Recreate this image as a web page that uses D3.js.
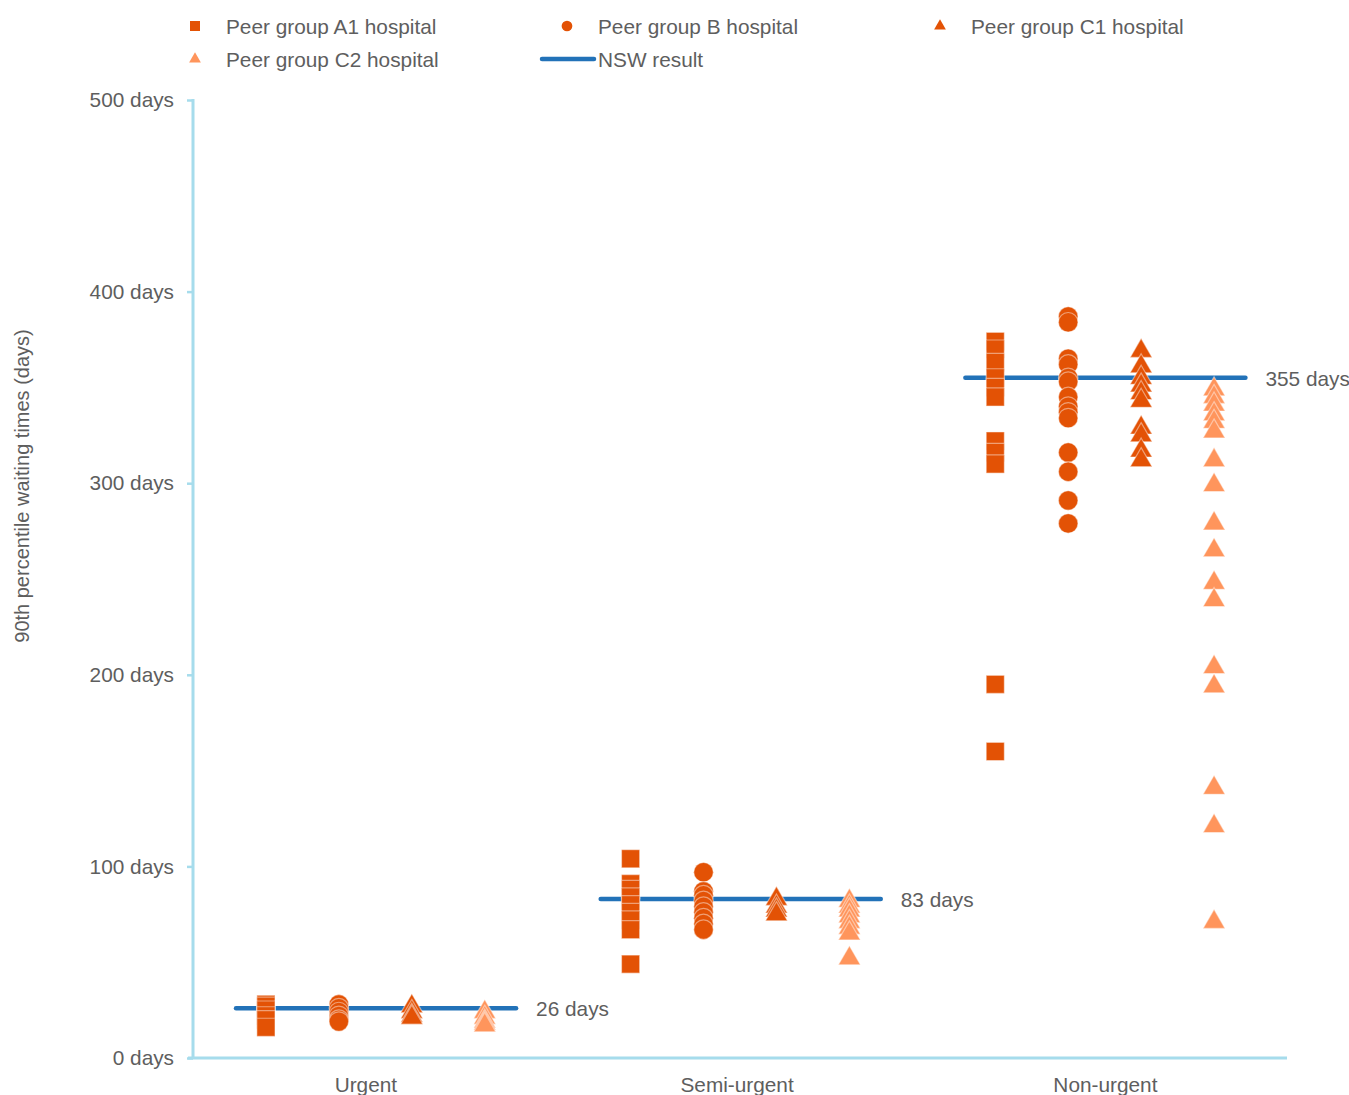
<!DOCTYPE html>
<html><head><meta charset="utf-8">
<script src="https://cdn.jsdelivr.net/npm/d3@7"></script>
<style>body{margin:0;background:#fff;} text{font-family:"Liberation Sans",Arial,sans-serif;}</style>
</head><body><svg id="c" width="1349" height="1095"></svg>
<script>
const categories = ["Urgent", "Semi-urgent", "Non-urgent"];
const categoryLabelX = [2.37, 7.46, 12.51];
const groups = ["Peer group A1 hospital", "Peer group B hospital", "Peer group C1 hospital", "Peer group C2 hospital"];
const nswResult = [26, 83, 355];
const yTicks = [0, 100, 200, 300, 400, 500];
// values per category (Urgent, Semi-urgent, Non-urgent)
const a1Values = [
  [28, 27, 25, 22, 20, 16],
  [104, 91, 88, 84, 80, 76, 72, 67, 49],
  [374, 370, 363, 355, 350, 345, 322, 316, 310, 195, 160]
];
const bValues = [
  [28, 26, 24, 22, 20, 19],
  [97, 87, 85, 82, 79, 76, 73, 70, 67],
  [387, 384, 365, 362, 355, 353, 345, 340, 337, 334, 316, 306, 291, 279]
];
const c1Values = [
  [28, 25, 23, 22],
  [84, 80, 78, 76],
  [370, 362, 356, 352, 348, 344, 330, 326, 318, 313]
];
const c2Values = [
  [25, 22, 20, 19, 18],
  [83, 80, 78, 75, 72, 69, 66, 53],
  [350, 346, 342, 337, 333, 328, 313, 300, 280, 266, 249, 240, 205, 195, 142, 122, 72]
];
const seriesValues = [a1Values, bValues, c1Values, c2Values];
const seriesSymbols = [d3.symbolSquare, d3.symbolCircle, d3.symbolTriangle, d3.symbolTriangle];
const seriesColors = ["#E35205", "#E35205", "#E35205", "#FF955C"];

const svg = d3.select("#c");
const x = d3.scaleLinear().domain([0, 15]).range([193, 1287]);
const y = d3.scaleLinear().domain([0, 500]).range([1058, 100]);
const textColor = "#5e5e5e";
const axisColor = "#A6DCEC";
const fs = "20.8px";

// y axis
const yAxis = svg.append("g").attr("transform", `translate(${x(0)},0)`)
  .call(d3.axisLeft(y).tickValues(yTicks).tickSize(6).tickPadding(13).tickFormat(d => d + " days"));
yAxis.select(".domain").remove();
yAxis.selectAll(".tick line").attr("stroke", axisColor).attr("stroke-width", 2.5);
yAxis.selectAll(".tick text").attr("fill", textColor).style("font-size", fs).style("font-family", "Liberation Sans, Arial, sans-serif");
svg.append("line").attr("x1", x(0)).attr("x2", x(0)).attr("y1", y(500) - 1).attr("y2", y(0))
  .attr("stroke", axisColor).attr("stroke-width", 3);
svg.append("line").attr("x1", x(0) - 5).attr("x2", x(15)).attr("y1", y(0)).attr("y2", y(0))
  .attr("stroke", axisColor).attr("stroke-width", 3);

// y title
svg.append("text").attr("transform", `translate(29,486) rotate(-90)`)
  .attr("text-anchor", "middle").attr("fill", textColor).style("font-size", "20px")
  .text("90th percentile waiting times (days)");

// category labels
categories.forEach((c, i) => {
  svg.append("text").attr("x", x(categoryLabelX[i])).attr("y", 1092)
    .attr("text-anchor", "middle").attr("fill", textColor).style("font-size", fs).text(c);
});

// NSW lines
nswResult.forEach((v, i) => {
  const start = i * 5 + 0.59, end = i * 5 + 4.43;
  svg.append("line").attr("x1", x(start)).attr("x2", x(end)).attr("y1", y(v)).attr("y2", y(v))
    .attr("stroke", "#2272B8").attr("stroke-width", 4.5).attr("stroke-linecap", "round");
  svg.append("text").attr("x", x(end) + 20).attr("y", y(v) + 8).attr("fill", textColor)
    .style("font-size", fs).text(v + " days");
});

// markers
seriesValues.forEach((s, si) => {
  const sym = d3.symbol().type(seriesSymbols[si]).size(si === 1 ? 300 : (si === 0 ? 330 : 210));
  s.forEach((vals, ci) => {
    const xv = ci * 5 + 1 + si;
    svg.append("g").selectAll("path").data(vals).join("path")
      .attr("d", sym)
      .attr("transform", d => `translate(${x(xv)},${y(d) + (si >= 2 ? 2 : 0)})`)
      .attr("fill", seriesColors[si])
      .attr("stroke", "rgba(255,255,255,0.45)").attr("stroke-width", 1.2);
  });
});

// legend
const legendItems = [
  {label: groups[0], sx: 195, tx: 226, ly: 26, si: 0},
  {label: groups[1], sx: 567, tx: 598, ly: 26, si: 1},
  {label: groups[2], sx: 940, tx: 971, ly: 26, si: 2},
  {label: groups[3], sx: 195, tx: 226, ly: 59, si: 3}
];
legendItems.forEach(it => {
  svg.append("path").attr("d", d3.symbol().type(seriesSymbols[it.si]).size(it.si === 1 ? 90 : (it.si === 0 ? 100 : 60)))
    .attr("transform", `translate(${it.sx},${it.ly})`).attr("fill", seriesColors[it.si]);
  svg.append("text").attr("x", it.tx).attr("y", it.ly + 8).attr("fill", textColor)
    .style("font-size", fs).text(it.label);
});
svg.append("line").attr("x1", 542).attr("x2", 594).attr("y1", 59).attr("y2", 59)
  .attr("stroke", "#2272B8").attr("stroke-width", 4.5).attr("stroke-linecap", "round");
svg.append("text").attr("x", 598).attr("y", 67).attr("fill", textColor).style("font-size", fs).text("NSW result");
</script></body></html>
